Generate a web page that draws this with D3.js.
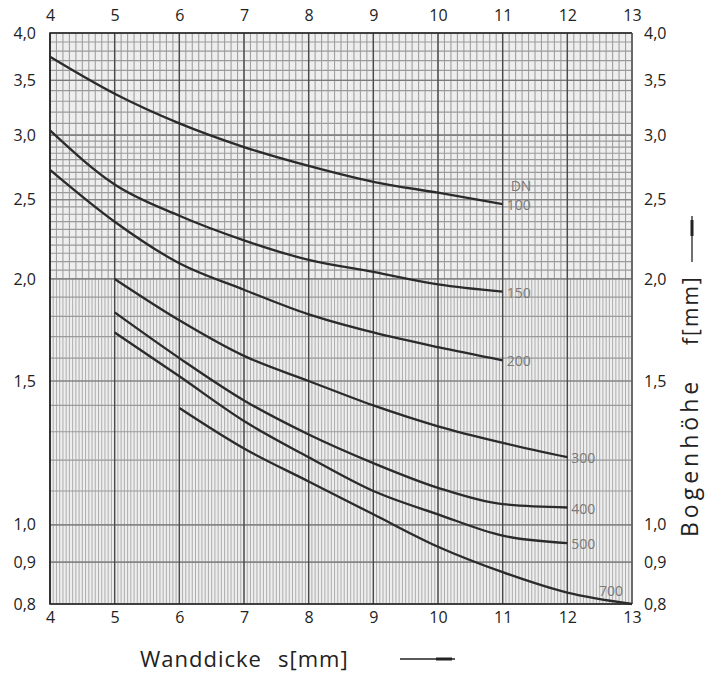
<!DOCTYPE html>
<html>
<head>
<meta charset="utf-8">
<script src="https://cdn.jsdelivr.net/npm/d3@7"></script>
<style>
  body { margin: 0; background: #fff; }
  svg text { font-family: "Open Sans", "DejaVu Sans", sans-serif; }
</style>
</head>
<body>
<div id="chart"></div>
<script>
// Wall thickness (x) against bow height (y) for several DN sizes
var xTicks = [4, 5, 6, 7, 8, 9, 10, 11, 12, 13];
var yTicks = [0.8, 0.9, 1.0, 1.5, 2.0, 2.5, 3.0, 3.5, 4.0];

var s100 = [4, 5, 6, 7, 8, 9, 10, 11];
var f100 = [3.74, 3.37, 3.10, 2.90, 2.75, 2.63, 2.55, 2.47];
var s150 = [4, 5, 6, 7, 8, 9, 10, 11];
var f150 = [3.04, 2.61, 2.39, 2.23, 2.11, 2.04, 1.97, 1.93];
var s200 = [4, 5, 6, 7, 8, 9, 10, 11];
var f200 = [2.72, 2.35, 2.09, 1.94, 1.81, 1.72, 1.65, 1.59];
var s300 = [5, 6, 7, 8, 9, 10, 11, 12];
var f300 = [2.00, 1.78, 1.61, 1.50, 1.40, 1.32, 1.26, 1.21];
var s400 = [5, 6, 7, 8, 9, 10, 11, 12];
var f400 = [1.82, 1.60, 1.42, 1.29, 1.19, 1.11, 1.06, 1.05];
var s500 = [5, 6, 7, 8, 9, 10, 11, 12];
var f500 = [1.72, 1.52, 1.34, 1.21, 1.10, 1.03, 0.97, 0.95];
var s700 = [6, 7, 8, 9, 10, 11, 12, 13];
var f700 = [1.39, 1.24, 1.13, 1.03, 0.94, 0.875, 0.826, 0.80];

var dnNames = ["100", "150", "200", "300", "400", "500", "700"];
var dnS = [s100, s150, s200, s300, s400, s500, s700];
var dnF = [f100, f150, f200, f300, f400, f500, f700];

var w = 706;
var h = 673;

var x = d3.scaleLinear().domain([4, 13]).range([50, 632]);
var y = d3.scaleLog().domain([0.8, 4.0]).range([604, 33]);

var svg = d3.select("#chart")
    .append("svg")
    .attr("width", w)
    .attr("height", h);

// paper background
svg.append("rect")
    .attr("x", x(4)).attr("y", y(4))
    .attr("width", x(13) - x(4))
    .attr("height", y(0.8) - y(4))
    .style("fill", "#eeeeee");

var grid = svg.append("g");

// vertical fine lines: 0.05 below f=2, 0.1 above
var vFine = d3.range(0, 181).map(function (i) { return 4 + i * 0.05; });
grid.selectAll(".vlow")
    .data(vFine)
    .enter().append("line")
    .attr("x1", x).attr("x2", x)
    .attr("y1", y(2.0)).attr("y2", y(0.8))
    .style("stroke", "#a6a6a6")
    .style("stroke-width", 0.9);

var vCoarse = d3.range(0, 91).map(function (i) { return 4 + i * 0.1; });
grid.selectAll(".vhigh")
    .data(vCoarse)
    .enter().append("line")
    .attr("x1", x).attr("x2", x)
    .attr("y1", y(4.0)).attr("y2", y(2.0))
    .style("stroke", "#a0a0a0")
    .style("stroke-width", 1.1);

// horizontal lines: 0.05 from 2 to 3, 0.1 elsewhere
var hMid = d3.range(0, 21).map(function (i) { return 2.0 + i * 0.05; });
var hTop = d3.range(0, 11).map(function (i) { return 3.0 + i * 0.1; });
var hLow = d3.range(0, 12).map(function (i) { return 0.8 + i * 0.1; });
grid.selectAll(".h")
    .data(hMid.concat(hTop, hLow))
    .enter().append("line")
    .attr("x1", x(4)).attr("x2", x(13))
    .attr("y1", y).attr("y2", y)
    .style("stroke", "#9a9a9a")
    .style("stroke-width", 1.2);

// labelled levels a bit darker
grid.selectAll(".hmaj")
    .data(yTicks)
    .enter().append("line")
    .attr("x1", x(4)).attr("x2", x(13))
    .attr("y1", y).attr("y2", y)
    .style("stroke", "#7a7a7a")
    .style("stroke-width", 1.2);

// integer wall thickness lines
grid.selectAll(".vmaj")
    .data(xTicks)
    .enter().append("line")
    .attr("x1", x).attr("x2", x)
    .attr("y1", y(4.0)).attr("y2", y(0.8))
    .style("stroke", "#4a4a4a")
    .style("stroke-width", 1.4);

// frame
svg.append("path")
    .attr("d", "M" + x(13) + "," + y(4) + "H" + x(4) + "V" + y(0.8) + "H" + x(13))
    .style("fill", "none")
    .style("stroke", "#222")
    .style("stroke-width", 1.6);
svg.append("line")
    .attr("x1", x(13)).attr("x2", x(13))
    .attr("y1", y(4)).attr("y2", y(0.8))
    .style("stroke", "#666")
    .style("stroke-width", 1.2);

// curves
var line = d3.line()
    .x(function (d) { return x(d[0]); })
    .y(function (d) { return y(d[1]); })
    .curve(d3.curveMonotoneX);

dnNames.forEach(function (name, k) {
    var pts = dnS[k].map(function (s, i) { return [s, dnF[k][i]]; });
    svg.append("path")
        .datum(pts)
        .attr("d", line)
        .style("fill", "none")
        .style("stroke", "#2b2b2b")
        .style("stroke-width", 2.3);
});

// DN labels at the curve ends
var lab = svg.append("g")
    .style("font-size", "14px")
    .style("fill", "#7a7a7a");
dnNames.forEach(function (name, k) {
    var sEnd = dnS[k][dnS[k].length - 1];
    var fEnd = dnF[k][dnF[k].length - 1];
    var tx = x(sEnd) + 4;
    var ty = y(fEnd) + 6;
    if (name === "700") { tx = x(sEnd) - 33; ty = y(fEnd) - 8; }
    lab.append("text")
        .attr("x", tx)
        .attr("y", ty)
        .text(name);
});
lab.append("text")
    .attr("x", x(11) + 8)
    .attr("y", y(f100[7]) - 13)
    .text("DN");

// axes with comma decimals
var fmtY = function (d) { return d3.format(".1f")(d).replace(".", ","); };

var axes = [
    d3.axisBottom(x).tickValues(xTicks).tickSize(0).tickPadding(8),
    d3.axisTop(x).tickValues(xTicks).tickSize(0).tickPadding(12),
    d3.axisLeft(y).tickValues(yTicks).tickFormat(fmtY).tickSize(0).tickPadding(14),
    d3.axisRight(y).tickValues(yTicks).tickFormat(fmtY).tickSize(0).tickPadding(12)
];
var pos = ["translate(0," + y(0.8) + ")", "translate(0," + y(4) + ")",
    "translate(" + x(4) + ",0)", "translate(" + x(13) + ",0)"];

axes.forEach(function (ax, i) {
    var g = svg.append("g").attr("transform", pos[i]).call(ax);
    g.select(".domain").remove();
    g.selectAll("text")
        .attr("font-size", null)
        .style("font-size", "16px")
        .style("fill", "#222");
    g.attr("font-size", null).attr("font-family", null);
});

// axis titles
svg.append("text")
    .attr("x", 140)
    .attr("y", 667)
    .style("font-size", "22px")
    .style("letter-spacing", "1px")
    .style("fill", "#222")
    .text("Wanddicke");
svg.append("text")
    .attr("x", 278)
    .attr("y", 667)
    .style("font-size", "22px")
    .style("letter-spacing", "1px")
    .style("fill", "#222")
    .text("s[mm]");
svg.append("line")
    .attr("x1", 400).attr("x2", 455)
    .attr("y1", 659).attr("y2", 659)
    .style("stroke", "#222").style("stroke-width", 1.3);
svg.append("line")
    .attr("x1", 436).attr("x2", 452)
    .attr("y1", 659).attr("y2", 659)
    .style("stroke", "#222").style("stroke-width", 3);

svg.append("text")
    .attr("transform", "translate(698,537) rotate(-90)")
    .style("font-size", "23px")
    .style("letter-spacing", "4px")
    .style("fill", "#222")
    .text("Bogenhöhe");
svg.append("text")
    .attr("transform", "translate(698,345) rotate(-90)")
    .style("font-size", "21px")
    .style("letter-spacing", "2px")
    .style("fill", "#222")
    .text("f[mm]");
svg.append("line")
    .attr("x1", 692).attr("x2", 692)
    .attr("y1", 216).attr("y2", 262)
    .style("stroke", "#222").style("stroke-width", 1.3);
svg.append("line")
    .attr("x1", 692).attr("x2", 692)
    .attr("y1", 220).attr("y2", 236)
    .style("stroke", "#222").style("stroke-width", 3);
</script>
</body>
</html>
